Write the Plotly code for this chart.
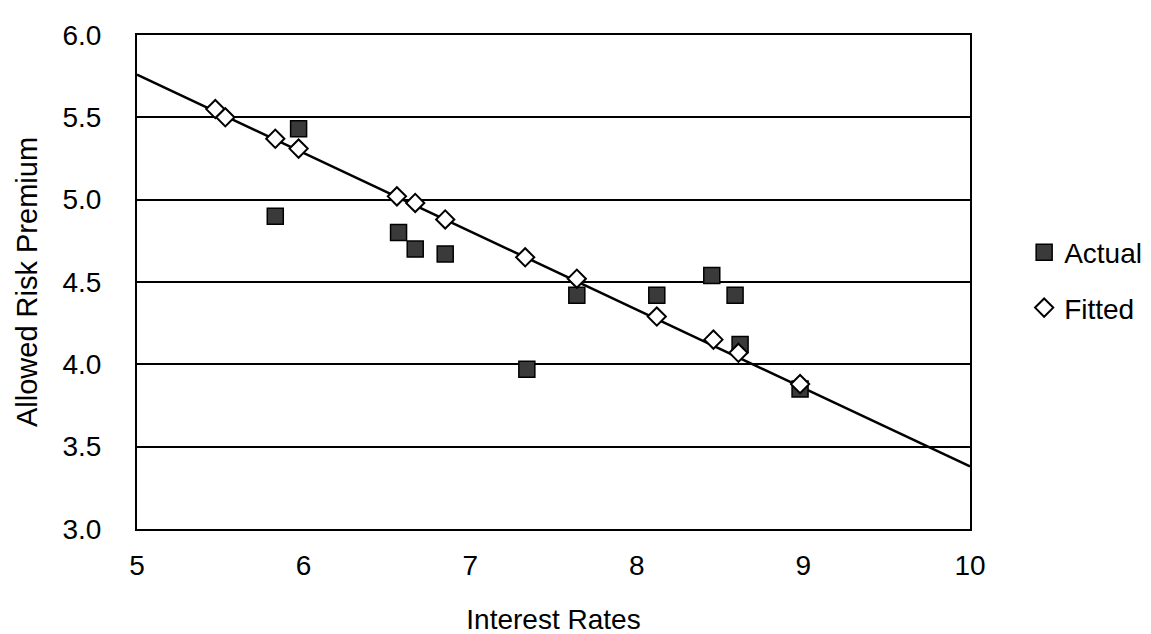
import plotly.graph_objects as go

# Actual observations (interest rate, allowed risk premium)
actual_x = [5.83, 5.97, 6.57, 6.67, 6.85, 7.34, 7.64, 8.12, 8.45, 8.59, 8.62, 8.98]
actual_y = [4.90, 5.43, 4.80, 4.70, 4.67, 3.97, 4.42, 4.42, 4.54, 4.42, 4.12, 3.85]

# Fitted values
fitted_x = [5.47, 5.53, 5.83, 5.97, 6.56, 6.67, 6.85, 7.33, 7.64, 8.12, 8.46, 8.61, 8.98]
fitted_y = [5.55, 5.50, 5.37, 5.31, 5.02, 4.98, 4.88, 4.65, 4.52, 4.29, 4.15, 4.07, 3.88]

# Regression line end points
line_x = [5, 10]
line_y = [5.76, 3.38]

x_ticks = [5, 6, 7, 8, 9, 10]
y_ticks = [3.0, 3.5, 4.0, 4.5, 5.0, 5.5, 6.0]

FONT = "Liberation Sans, Arial, sans-serif"

fig = go.Figure()
fig.add_trace(go.Scatter(x=line_x, y=line_y, mode="lines",
                         line=dict(color="black", width=2.5),
                         showlegend=False, hoverinfo="skip"))
fig.add_trace(go.Scatter(x=actual_x, y=actual_y, mode="markers", name="Actual",
                         legendgroup="a",
                         marker=dict(symbol="square", size=16, color="#3a3a3a",
                                     line=dict(color="black", width=1.5))))
fig.add_trace(go.Scatter(x=fitted_x, y=fitted_y, mode="markers", name="Fitted",
                         legendgroup="b",
                         marker=dict(symbol="diamond", size=14, color="white",
                                     line=dict(color="black", width=2))))

fig.update_layout(
    width=1151, height=634,
    margin=dict(l=129, r=188, t=16, b=112),
    paper_bgcolor="white", plot_bgcolor="white",
    font=dict(family=FONT, size=28, color="black"),
    legend=dict(x=1.065, y=0.504, xanchor="left", yanchor="middle",
                font=dict(size=28), bgcolor="rgba(0,0,0,0)",
                tracegroupgap=16),
    xaxis=dict(range=[5, 10], tickvals=x_ticks, ticktext=[str(v) for v in x_ticks],
               showgrid=False, zeroline=False, showline=True, linecolor="black",
               linewidth=2, mirror=True, ticks="", ticklabelstandoff=10,
               tickfont=dict(size=28),
               title=dict(text="Interest Rates", standoff=30,
                          font=dict(size=28))),
    yaxis=dict(range=[3, 6], tickvals=y_ticks, ticktext=[f"{v:.1f}" for v in y_ticks],
               showgrid=True, gridcolor="black", gridwidth=2, zeroline=False,
               showline=True, linecolor="black", linewidth=2, mirror=True,
               ticks="", ticklabelstandoff=28, tickfont=dict(size=28),
               title=dict(text="Allowed Risk Premium", standoff=16,
                          font=dict(size=29))),
)

fig.write_html("out.html")
